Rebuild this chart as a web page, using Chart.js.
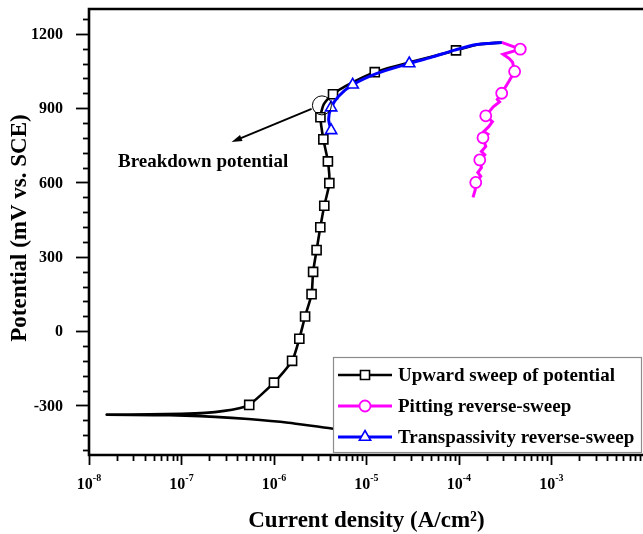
<!DOCTYPE html>
<html>
<head>
<meta charset="utf-8">
<title>Polarization curve</title>
<script src="https://cdn.jsdelivr.net/npm/chart.js@4.4.0/dist/chart.umd.min.js"></script>
<style>
  html, body { margin: 0; padding: 0; background: #fff; overflow: hidden; }
  #wrap { width: 643px; height: 534px; overflow: hidden; }
</style>
</head>
<body>
<div id="wrap"><canvas id="pdChart" width="652" height="534"></canvas></div>
<script>
// Upward sweep of potential (black) - current density in A/cm2, potential in mV vs SCE
const upwardX = [1.0e-5, 4.2e-6, 1.43e-6, 5.3e-7, 2.3e-7, 1.1e-7, 5.0e-8, 1.55e-8,
  4.5e-8, 1.0e-7, 1.8e-7, 2.9e-7, 4.2e-7, 5.4e-7, 1.0e-6, 1.57e-6, 1.88e-6, 2.17e-6,
  2.55e-6, 2.65e-6, 2.89e-6, 3.17e-6, 3.5e-6, 3.97e-6, 3.83e-6, 3.42e-6, 3.18e-6,
  3.45e-6, 4.35e-6, 6.0e-6, 1.23e-5, 3.0e-5, 9.3e-5, 1.6e-4, 2.9e-4];
const upwardY = [-405, -393, -370, -355, -346, -341, -339, -337,
  -336, -334, -330, -322, -311, -298, -208, -120, -31, 59,
  149, 239, 327, 419, 506, 597, 685, 774, 863,
  915, 956, 990, 1045, 1086, 1133, 1157, 1165];
const upwardMarks = [13, 14, 15, 16, 17, 18, 19, 20, 21, 22, 23, 24, 25, 26, 28, 30, 32];

// Pitting reverse-sweep (magenta)
const pittingX = [2.9e-4, 4.6e-4, 3.0e-4, 3.5e-4, 3.8e-4, 4.0e-4, 3.5e-4, 2.9e-4,
  2.6e-4, 2.75e-4, 2.35e-4, 1.95e-4, 2.3e-4, 2.1e-4, 1.85e-4, 2.05e-4, 1.82e-4,
  1.95e-4, 1.75e-4, 1.9e-4, 1.68e-4, 1.75e-4, 1.6e-4, 1.72e-4, 1.52e-4, 1.5e-4, 1.42e-4];
const pittingY = [1165, 1138, 1117, 1100, 1085, 1048, 1010, 960,
  935, 925, 905, 869, 845, 825, 805, 795, 780,
  745, 725, 712, 691, 660, 640, 625, 600, 570, 540];
const pittingMarks = [1, 5, 7, 11, 16, 20, 24];

// Transpassivity reverse-sweep (blue)
const transX = [2.9e-4, 1.55e-4, 9.0e-5, 5.0e-5, 2.9e-5, 1.3e-5, 7.1e-6, 5.0e-6, 4.15e-6, 3.9e-6, 4.15e-6];
const transY = [1165, 1157, 1134, 1105, 1080, 1040, 994, 948, 902, 855, 810];
const transMarks = [4, 6, 8, 10];

const seriesLabels = ['Upward sweep of potential', 'Pitting reverse-sweep', 'Transpassivity reverse-sweep'];

// axes
const xMin = 1e-8, xMax = 1e-2;
const yMin = -500, yMax = 1300;
const xDecades = [1e-8, 1e-7, 1e-6, 1e-5, 1e-4, 1e-3];
const xDecadeExp = ['-8', '-7', '-6', '-5', '-4', '-3'];
const yMajorTicks = [-300, 0, 300, 600, 900, 1200];
const yMinorStep = 60;

// breakdown potential note (data units)
const breakdownAt = { x: 3.3e-6, y: 911 };
const arrowFrom = { x: 2.55e-6, y: 897 };
const arrowTo = { x: 3.48e-7, y: 763 };
const noteAt = { x: 2.06e-8, y: 682 };

const SERIF = '"Liberation Serif", "Times New Roman", serif';

function toPoints(xs, ys) {
  return xs.map((v, i) => ({ x: v, y: ys[i] }));
}

function markerRadius(marks, r) {
  return ctx => (marks.includes(ctx.dataIndex) ? r : 0);
}

// axes, ticks and labels
const framePlugin = {
  id: 'frame',
  afterDraw(chart) {
    const { ctx, chartArea: a, scales: { x, y } } = chart;
    ctx.save();
    ctx.strokeStyle = '#000';
    ctx.fillStyle = '#000';

    // y ticks
    ctx.lineWidth = 1.8;
    for (let v = yMin + 20; v <= yMax; v += yMinorStep) {
      const py = Math.round(y.getPixelForValue(v)) + 0.5;
      const len = yMajorTicks.includes(v) ? 13 : 6;
      ctx.beginPath();
      ctx.moveTo(a.left - len, py);
      ctx.lineTo(a.left, py);
      ctx.stroke();
    }
    // x ticks
    xDecades.concat([xMax]).forEach((d, i) => {
      for (let m = 1; m <= 9; m++) {
        const v = d * m;
        if (v > xMax || (i === xDecades.length && m > 1)) break;
        const px = Math.round(x.getPixelForValue(v)) + 0.5;
        const len = m === 1 ? 10 : 6;
        ctx.beginPath();
        ctx.moveTo(px, a.bottom);
        ctx.lineTo(px, a.bottom + len);
        ctx.stroke();
      }
    });

    // frame
    ctx.lineWidth = 2.6;
    ctx.beginPath();
    ctx.moveTo(a.right + 2, a.top);
    ctx.lineTo(a.left, a.top);
    ctx.lineTo(a.left, a.bottom);
    ctx.lineTo(a.right + 2, a.bottom);
    ctx.stroke();

    // y tick labels
    ctx.font = 'bold 16px ' + SERIF;
    ctx.textAlign = 'right';
    ctx.textBaseline = 'middle';
    yMajorTicks.forEach(v => {
      ctx.fillText(String(v), a.left - 26, y.getPixelForValue(v) + 1);
    });

    // x tick labels, 10 with superscript exponent
    xDecades.forEach((d, i) => {
      const px = x.getPixelForValue(d);
      ctx.font = 'bold 16px ' + SERIF;
      const wBase = ctx.measureText('10').width;
      ctx.font = 'bold 10px ' + SERIF;
      const wExp = ctx.measureText(xDecadeExp[i]).width;
      const left = px - (wBase + wExp) / 2;
      ctx.textAlign = 'left';
      ctx.textBaseline = 'alphabetic';
      ctx.font = 'bold 16px ' + SERIF;
      ctx.fillText('10', left, a.bottom + 34);
      ctx.font = 'bold 10px ' + SERIF;
      ctx.fillText(xDecadeExp[i], left + wBase, a.bottom + 26);
    });

    // axis titles
    ctx.font = 'bold 23px ' + SERIF;
    ctx.textAlign = 'center';
    ctx.textBaseline = 'middle';
    ctx.fillText('Current density (A/cm\u00B2)', (a.left + a.right) / 2, 521);
    ctx.save();
    ctx.translate(20, 228);
    ctx.rotate(-Math.PI / 2);
    ctx.fillText('Potential (mV vs. SCE)', 0, 0);
    ctx.restore();

    ctx.restore();
  }
};

// breakdown potential circle, arrow and text
const notePlugin = {
  id: 'note',
  afterDatasetsDraw(chart) {
    const { ctx, scales: { x, y } } = chart;
    const cx = x.getPixelForValue(breakdownAt.x), cy = y.getPixelForValue(breakdownAt.y);
    const x0 = x.getPixelForValue(arrowFrom.x), y0 = y.getPixelForValue(arrowFrom.y);
    const x1 = x.getPixelForValue(arrowTo.x), y1 = y.getPixelForValue(arrowTo.y);
    ctx.save();
    ctx.strokeStyle = '#000';
    ctx.fillStyle = '#000';
    ctx.lineWidth = 1;
    ctx.beginPath();
    ctx.arc(cx, cy, 9.5, 0, Math.PI * 2);
    ctx.stroke();

    const ang = Math.atan2(y1 - y0, x1 - x0);
    const head = 11;
    ctx.lineWidth = 1.8;
    ctx.beginPath();
    ctx.moveTo(x0, y0);
    ctx.lineTo(x1 - Math.cos(ang) * head * 0.8, y1 - Math.sin(ang) * head * 0.8);
    ctx.stroke();
    ctx.beginPath();
    ctx.moveTo(x1, y1);
    ctx.lineTo(x1 - head * Math.cos(ang - 0.3), y1 - head * Math.sin(ang - 0.3));
    ctx.lineTo(x1 - head * Math.cos(ang + 0.3), y1 - head * Math.sin(ang + 0.3));
    ctx.closePath();
    ctx.fill();

    ctx.font = 'bold 19px ' + SERIF;
    ctx.textAlign = 'left';
    ctx.textBaseline = 'middle';
    ctx.fillText('Breakdown potential', x.getPixelForValue(noteAt.x), y.getPixelForValue(noteAt.y));
    ctx.restore();
  }
};

// boxed legend inside the plot, line + marker samples
const boxLegendPlugin = {
  id: 'boxLegend',
  afterDatasetsDraw(chart) {
    const ctx = chart.ctx;
    const bx = 333, by = 357, bw = 308, bh = 95;
    ctx.save();
    ctx.fillStyle = '#fff';
    ctx.fillRect(bx, by, bw, bh);
    ctx.strokeStyle = '#8c8c8c';
    ctx.lineWidth = 1.2;
    ctx.strokeRect(bx + 0.5, by + 0.5, bw, bh);

    const rowY = [375, 406, 437];
    chart.data.datasets.forEach((ds, i) => {
      const ry = rowY[i];
      ctx.strokeStyle = ds.borderColor;
      ctx.lineWidth = ds.borderWidth;
      ctx.beginPath();
      ctx.moveTo(bx + 5, ry);
      ctx.lineTo(bx + 59, ry);
      ctx.stroke();
      ctx.fillStyle = '#fff';
      ctx.strokeStyle = ds.pointBorderColor;
      ctx.lineWidth = ds.pointBorderWidth;
      Chart.helpers.drawPoint(ctx, {
        pointStyle: ds.pointStyle,
        radius: ds.legendRadius,
        borderWidth: ds.pointBorderWidth,
        rotation: 0
      }, bx + 32, ry);
      ctx.fillStyle = '#000';
      ctx.font = 'bold 19px ' + SERIF;
      ctx.textAlign = 'left';
      ctx.textBaseline = 'middle';
      ctx.fillText(ds.label, bx + 65, ry + 1);
    });
    ctx.restore();
  }
};

const chart = new Chart(document.getElementById('pdChart'), {
  type: 'line',
  data: {
    datasets: [
      {
        label: seriesLabels[0],
        data: toPoints(upwardX, upwardY),
        borderColor: '#000000',
        borderWidth: 2.6,
        tension: 0.2,
        pointStyle: 'rect',
        pointRadius: markerRadius(upwardMarks, 6.4),
        legendRadius: 6.4,
        pointBackgroundColor: '#ffffff',
        pointBorderColor: '#000000',
        pointBorderWidth: 1.6,
        order: 2
      },
      {
        label: seriesLabels[1],
        data: toPoints(pittingX, pittingY),
        borderColor: '#ff00ff',
        borderWidth: 3,
        tension: 0,
        pointStyle: 'circle',
        pointRadius: markerRadius(pittingMarks, 5.5),
        legendRadius: 5.5,
        pointBackgroundColor: '#ffffff',
        pointBorderColor: '#ff00ff',
        pointBorderWidth: 1.8,
        order: 1
      },
      {
        label: seriesLabels[2],
        data: toPoints(transX, transY),
        borderColor: '#0000ff',
        borderWidth: 3,
        tension: 0.25,
        pointStyle: 'triangle',
        pointRadius: markerRadius(transMarks, 6.5),
        legendRadius: 6.5,
        pointBackgroundColor: '#ffffff',
        pointBorderColor: '#0000ff',
        pointBorderWidth: 1.6,
        order: 0
      }
    ]
  },
  options: {
    responsive: false,
    animation: false,
    devicePixelRatio: 1,
    layout: { padding: { top: 9, left: 89, right: 1, bottom: 79 } },
    plugins: { legend: { display: false }, tooltip: { enabled: false } },
    scales: {
      x: { type: 'logarithmic', min: xMin, max: xMax, display: false },
      y: { type: 'linear', min: yMin, max: yMax, display: false }
    }
  },
  plugins: [notePlugin, boxLegendPlugin, framePlugin]
});
</script>
</body>
</html>
